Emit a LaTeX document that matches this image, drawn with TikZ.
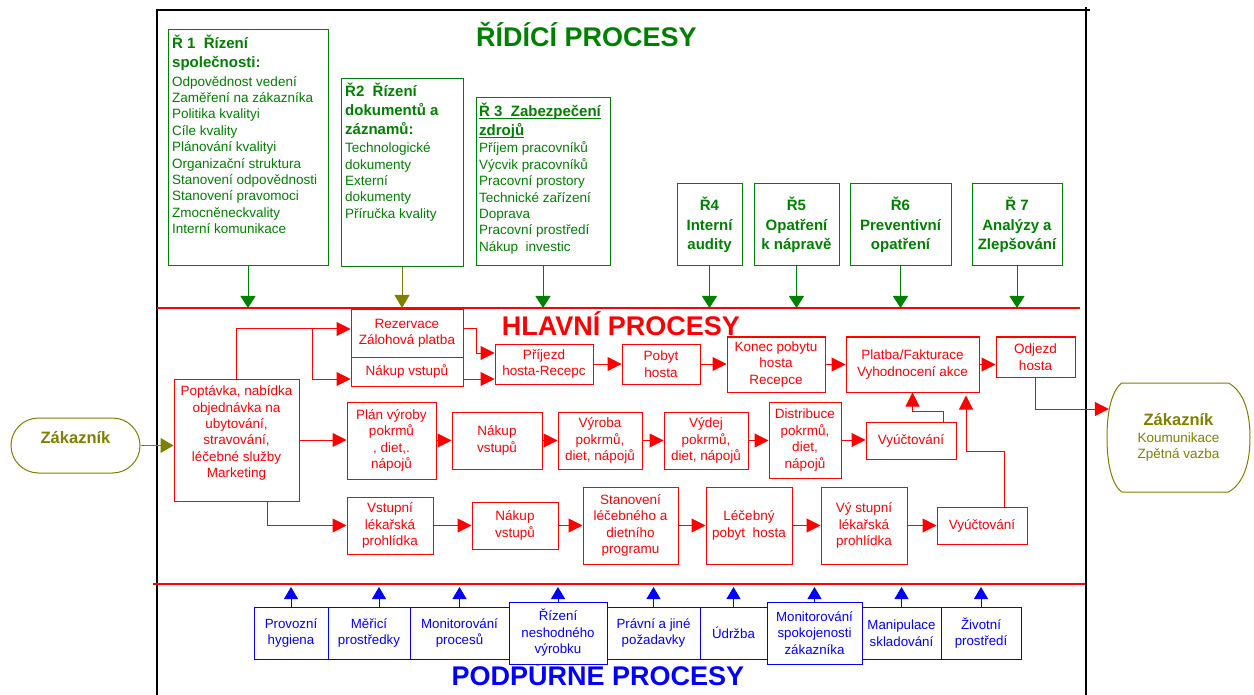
\documentclass[tikz,border=0pt]{standalone}
\usepackage{fontspec}
\setmainfont{Liberation Sans}
\usetikzlibrary{arrows.meta,shapes.misc,calc}
\definecolor{grn}{RGB}{0,128,0}
\definecolor{olv}{RGB}{128,128,0}
\definecolor{rd}{RGB}{255,0,0}
\definecolor{bl}{RGB}{0,0,255}
% underline with a fixed rule depth
\newcommand\ulline[1]{\leavevmode\setbox0\hbox{#1}\rlap{\rule[-2.4pt]{\wd0}{1.1pt}}\box0}

\begin{document}
\begin{tikzpicture}[x=1pt,y=-1pt,
  sz/.style 2 args={minimum width=#1pt, minimum height=#2pt},
  txt/.style={font=\fontsize{13.5}{16.4}\selectfont},
  gbox/.style={draw=grn, line width=1pt, fill=white, inner sep=0pt},
  gtitle/.style={font=\fontsize{15}{19}\selectfont\bfseries, text=grn, inner sep=0pt, anchor=west, align=left},
  gbody/.style={txt, text=grn, inner sep=0pt, anchor=west, align=left},
  gsmall/.style={gbox, font=\fontsize{15}{19.5}\selectfont\bfseries, text=grn, align=center},
  rbox/.style={draw=rd, line width=1pt, txt, text=rd, align=center, inner sep=0pt, fill=white},
  bbox/.style={draw=bl, line width=1pt, font=\fontsize{13.3}{16.5}\selectfont, text=bl, align=center, inner sep=0pt, fill=white},
  title/.style={font=\fontsize{27}{30}\selectfont\bfseries, anchor=base, inner sep=0pt},
  ra/.style={draw=rd, line width=1pt, -{Triangle[length=14pt,width=14pt]}},
  ga/.style={draw=grn, line width=1pt, -{Triangle[length=12pt,width=15pt]}},
  oa/.style={draw=olv, line width=1pt, -{Triangle[length=13pt,width=15pt]}},
  ba/.style={draw=bl, line width=1pt, -{Triangle[length=12pt,width=14pt]}},
  frame/.style={draw=black, line width=2pt},
  sep/.style={draw=rd, line width=2pt}
]
\fill[white] (0,0) rectangle (1254,695);
\useasboundingbox (0,0) rectangle (1254,695);

% outer frame
\draw[frame] (157,695) -- (157,10) -- (1090,10);
\draw[frame] (1086,7) -- (1086,695);

% separators between the three process bands
\coordinate (rt) at (0,308);
\coordinate (bt) at (0,587);
\draw[sep] (157,308) -- (1080,308);
\draw[sep] (153,584) -- (1085,584);

% band titles
\node[title, text=grn] (tR) at (586.5,47) {ŘÍDÍCÍ PROCESY};
\node[title, text=rd] (tH) at (621,335) {HLAVNÍ PROCESY};
\node[title, text=bl] (tP) at (598,685) {PODPŮRNÉ PROCESY};

% ---- control processes ----
\node[gbox, sz={160}{236}] (r1) at (248,148) {};
\node[gtitle] (r1t) at (172,53) {Ř 1\ \ Řízení\\společnosti:};
\node[gbody] (r1b) at (172,155) {Odpovědnost vedení\\Zaměření na zákazníka\\Politika kvalityi\\Cíle kvality\\Plánování kvalityi\\Organizační struktura\\Stanovení odpovědnosti\\Stanovení pravomoci\\Zmocněneckvality\\Interní komunikace};

\node[gbox, sz={122}{188}] (r2) at (402,173) {};
\node[gtitle] (r2t) at (345,109) {Ř2\ \ Řízení\\dokumentů a\\záznamů:};
\node[gbody] (r2b) at (345,182) {Technologické\\dokumenty\\Externí\\dokumenty\\Příručka kvality};

\node[gbox, sz={134}{168}] (r3) at (543,182) {};
\node[gtitle] (r3t) at (479,121) {\ulline{Ř 3\ \ Zabezpečení}\\\ulline{zdrojů}};
\node[gbody] (r3b) at (479,198) {Příjem pracovníků\\Výcvik pracovníků\\Pracovní prostory\\Technické zařízení\\Doprava\\Pracovní prostředí\\Nákup\ \ investic};

\node[gsmall, sz={65}{82}] (r4) at (709.5,225) {Ř4\\Interní\\audity};
\node[gsmall, sz={85}{82}] (r5) at (796.5,225) {Ř5\\Opatření\\k nápravě};
\node[gsmall, sz={101}{82}] (r6) at (900.5,225) {Ř6\\Preventivní\\opatření};
\node[gsmall, sz={90}{82}] (r7) at (1017,225) {Ř 7\\Analýzy a\\Zlepšování};

\draw[ga] (r1.south) -- (r1.south |- rt);
\draw[oa] (r2.south) -- (r2.south |- rt);
\draw[ga] (r3.south) -- (r3.south |- rt);
\draw[ga] (r4.south) -- (r4.south |- rt);
\draw[ga] (r5.south) -- (r5.south |- rt);
\draw[ga] (r6.south) -- (r6.south |- rt);
\draw[ga] (r7.south) -- (r7.south |- rt);

% ---- customers ----
\node[rounded rectangle, draw=olv, line width=1pt, sz={129}{55}, inner sep=0pt,
      font=\fontsize{16.5}{20}\selectfont\bfseries, text=olv, text height=12pt, text depth=16pt]
      (zak1) at (75.5,445.5) {Zákazník};
\node[sz={143}{109}, inner sep=0pt, txt, text=olv, align=center]
      (zak2) at (1178.5,437.5) {{\fontsize{16.5}{20}\selectfont\bfseries Zákazník}\\Koumunikace\\Zpětná vazba};
% outline of the customer terminal: flat top and bottom, bulging sides
\begin{scope}[shift={(zak2.center)}]
\draw[draw=olv, line width=1pt] (-57,-54.5) -- (50,-54.5)
  .. controls (65,-46) and (71.5,-26) .. (71.5,0)
  .. controls (71.5,26) and (65,46) .. (50,54.5) -- (-57,54.5)
  .. controls (-67,46) and (-71.5,26) .. (-71.5,0)
  .. controls (-71.5,-26) and (-67,-46) .. cycle;
\end{scope}

% ---- main processes ----
\node[rbox, sz={125}{122}] (popt) at (236.5,440) {Poptávka, nabídka\\objednávka na\\ubytování,\\stravování,\\léčebné služby\\Marketing\\\mbox{}};
\node[rbox, sz={112}{47}] (rez) at (407,333.5) {Rezervace\\Zálohová platba};
\node[rbox, sz={112}{29}] (nak1) at (407,371.5) {Nákup vstupů};
\node[rbox, sz={98}{40}] (arr) at (544,364) {Příjezd\\hosta-Recepc};
\node[rbox, sz={78}{40}] (pob) at (661,364) {Pobyt\\hosta};
\node[rbox, sz={98}{55}] (kon) at (776,364.5) {Konec pobytu\\hosta\\Recepce};
\node[rbox, sz={133}{55}] (plat) at (912.5,364.5) {Platba/Fakturace\\Vyhodnocení akce};
\node[rbox, sz={79}{40}] (odj) at (1035.5,357) {Odjezd\\hosta};

\node[rbox, sz={89}{77}] (plan) at (391.5,440.5) {Plán výroby\\pokrmů\\, diet,.\\nápojů};
\node[rbox, sz={90}{57}] (nak2) at (497,440.5) {Nákup\\vstupů};
\node[rbox, sz={84}{57}] (vyr) at (600,440.5) {Výroba\\pokrmů,\\diet, nápojů};
\node[rbox, sz={84}{57}] (vyd) at (706,440.5) {Výdej\\pokrmů,\\diet, nápojů};
\node[rbox, sz={72}{76}] (dis) at (805,440) {Distribuce\\pokrmů,\\diet,\\nápojů};
\node[rbox, sz={90}{37}] (vy1) at (911,440.5) {Vyúčtování};

\node[rbox, sz={86}{57}] (vst) at (390,525.5) {Vstupní\\lékařská\\prohlídka};
\node[rbox, sz={86}{47}] (nak3) at (515,525.5) {Nákup\\vstupů};
\node[rbox, sz={95}{77}] (stan) at (630.5,525.5) {Stanovení\\léčebného a\\dietního\\programu};
\node[rbox, sz={86}{77}] (lec) at (749,525.5) {Léčebný\\pobyt\ \ hosta};
\node[rbox, sz={86}{77}] (vys) at (864,525.5) {Vý stupní\\lékařská\\prohlídka};
\node[rbox, sz={90}{37}] (vy2) at (982,525.5) {Vyúčtování};

% connectors of the main processes
\draw[oa] (zak1.east) -- (popt.west |- zak1.east);
\coordinate (pT) at ([xshift=-0.5]popt.north);
\coordinate (rzIn) at ([yshift=4.5]rez.west);
\coordinate (br) at ([xshift=-38]rzIn);
\draw[ra] (pT) |- (rzIn);
\draw[ra] (br) |- ([yshift=-7.5]nak1.west);
\draw[ra] ([yshift=4.5]rez.east) -- ++(13,0) |- ([yshift=11]arr.west);
\draw[ra] ([yshift=-7.5]nak1.east) -- ([yshift=-15]arr.west);
\draw[ra] (arr.east) -- (pob.west);
\draw[ra] (pob.east) -- (kon.west |- pob.east);
\draw[ra] (kon.east) -- (plat.west |- kon.east);
\draw[ra] (plat.east) -- (odj.west |- plat.east);
\draw[ra] (odj.south) |- ([xshift=2,yshift=28.5]zak2.west);

\draw[ra] (popt.east) -- (plan.west |- popt.east);
\draw[ra] (plan.east) -- (nak2.west);
\draw[ra] (nak2.east) -- (vyr.west);
\draw[ra] (vyr.east) -- (vyd.west);
\draw[ra] (vyd.east) -- (dis.west |- vyd.east);
\draw[ra] (dis.east) -- (vy1.west |- dis.east);
\draw[ra] ([xshift=32]vy1.north) -- ++(0,-10) -| (plat.south);

\draw[ra] ([xshift=30.5]popt.south) |- (vst.west);
\draw[ra] (vst.east) -- (nak3.west);
\draw[ra] (nak3.east) -- (stan.west);
\draw[ra] (stan.east) -- (lec.west);
\draw[ra] (lec.east) -- (vys.west);
\draw[ra] (vys.east) -- (vy2.west);
\draw[ra] ([xshift=22]vy2.north) -- ++(0,-55) -| ([xshift=53.5,yshift=-3]plat.south);

% ---- support processes ----
\node[bbox, sz={74}{52}] (s1) at (291,633) {Provozní\\hygiena};
\node[bbox, sz={82}{52}] (s2) at (369,633) {Měřicí\\prostředky};
\node[bbox, sz={99}{52}] (s3) at (459.5,633) {Monitorování\\procesů};
\node[bbox, sz={93}{52}] (s5) at (653.5,633) {Právní a jiné\\požadavky};
\node[bbox, sz={67}{52}] (s6) at (733.5,633) {Údržba};
\node[bbox, sz={79}{52}] (s8) at (901.5,633) {Manipulace\\skladování};
\node[bbox, sz={80}{52}] (s9) at (981,633) {Životní\\prostředí};
\node[bbox, sz={98}{62}] (s4) at (558,633) {Řízení\\neshodného\\výrobku};
\node[bbox, sz={95}{62}] (s7) at (814.5,633) {Monitorování\\spokojenosti\\zákazníka};

\coordinate (s2t) at ([xshift=10]s2.north);
\draw[ba] (s1.north) -- (s1.north |- bt);
\draw[ba] (s2t) -- (s2t |- bt);
\draw[ba] (s3.north) -- (s3.north |- bt);
\draw[ba] (s4.north) -- (s4.north |- bt);
\draw[ba] (s5.north) -- (s5.north |- bt);
\draw[ba] (s6.north) -- (s6.north |- bt);
\draw[ba] (s7.north) -- (s7.north |- bt);
\draw[ba] (s8.north) -- (s8.north |- bt);
\draw[ba] (s9.north) -- (s9.north |- bt);
\end{tikzpicture}
\end{document}
